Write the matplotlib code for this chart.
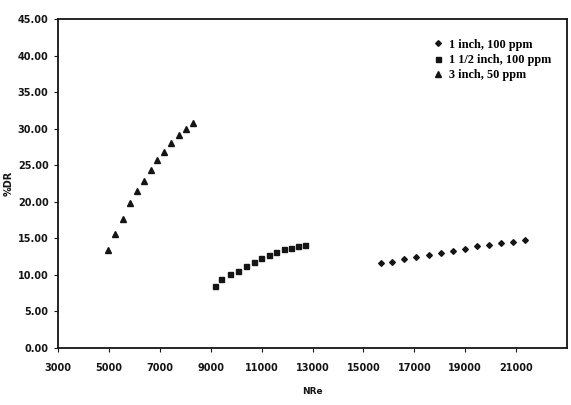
import matplotlib
matplotlib.use("Agg")
import matplotlib.pyplot as plt
from matplotlib.ticker import FormatStrFormatter

# 1 inch pipe, 100 ppm
nre_1in = [15680, 16140, 16610, 17070, 17580, 18050, 18510, 18980, 19460, 19930, 20400, 20870, 21330]
dr_1in = [11.55, 11.80, 12.15, 12.45, 12.75, 13.05, 13.30, 13.60, 13.90, 14.10, 14.40, 14.50, 14.75]

# 1 1/2 inch pipe, 100 ppm
nre_15in = [9160, 9400, 9750, 10060, 10380, 10690, 10970, 11280, 11560, 11870, 12140, 12420, 12690]
dr_15in = [8.45, 9.40, 10.10, 10.55, 11.25, 11.70, 12.25, 12.65, 13.10, 13.50, 13.70, 13.95, 14.10]

# 3 inch pipe, 50 ppm
nre_3in = [4950, 5250, 5530, 5820, 6080, 6360, 6630, 6900, 7160, 7440, 7730, 8010, 8290]
dr_3in = [13.45, 15.65, 17.70, 19.80, 21.45, 22.90, 24.40, 25.70, 26.80, 28.00, 29.10, 30.00, 30.80]

labels = ["1 inch, 100 ppm", "1 1/2 inch, 100 ppm", "3 inch, 50 ppm"]
x_ticks = [3000, 5000, 7000, 9000, 11000, 13000, 15000, 17000, 19000, 21000]
y_ticks = [0, 5, 10, 15, 20, 25, 30, 35, 40, 45]

ink = "#151515"

fig = plt.figure(figsize=(5.71, 4.05), dpi=100)
ax = fig.add_axes([0.102, 0.141, 0.891, 0.812])

ax.plot(nre_1in, dr_1in, linestyle="none", marker="D", markersize=2.9,
        color=ink, label=labels[0])
ax.plot(nre_15in, dr_15in, linestyle="none", marker="s", markersize=3.6,
        color=ink, label=labels[1])
ax.plot(nre_3in, dr_3in, linestyle="none", marker="^", markersize=4.1,
        color=ink, label=labels[2])

ax.set_xlim(3000, 23000)
ax.set_ylim(0, 45)
ax.set_xticks(x_ticks)
ax.set_yticks(y_ticks)
ax.yaxis.set_major_formatter(FormatStrFormatter("%.2f"))
ax.tick_params(axis="both", direction="out", length=3, width=0.8,
               labelsize=7, colors=ink, pad=4)
ax.tick_params(axis="x", pad=8)
for lab in ax.get_xticklabels() + ax.get_yticklabels():
    lab.set_fontweight("bold")

for side in ["left", "right", "top", "bottom"]:
    ax.spines[side].set_linewidth(1.3)
    ax.spines[side].set_color(ink)

ax.set_xlabel("NRe", fontsize=6.5, fontweight="bold", color=ink, labelpad=10)
ax.set_ylabel("%DR", fontsize=7, fontweight="bold", color=ink, labelpad=3)

ax.legend(loc="upper left", bbox_to_anchor=(0.725, 0.955), frameon=False,
          prop={"family": "Liberation Serif", "weight": "bold", "size": 8.8},
          handletextpad=0.4, labelspacing=0.25, handlelength=1.0,
          borderaxespad=0)

fig.savefig("out.png", dpi=100, facecolor="white")
